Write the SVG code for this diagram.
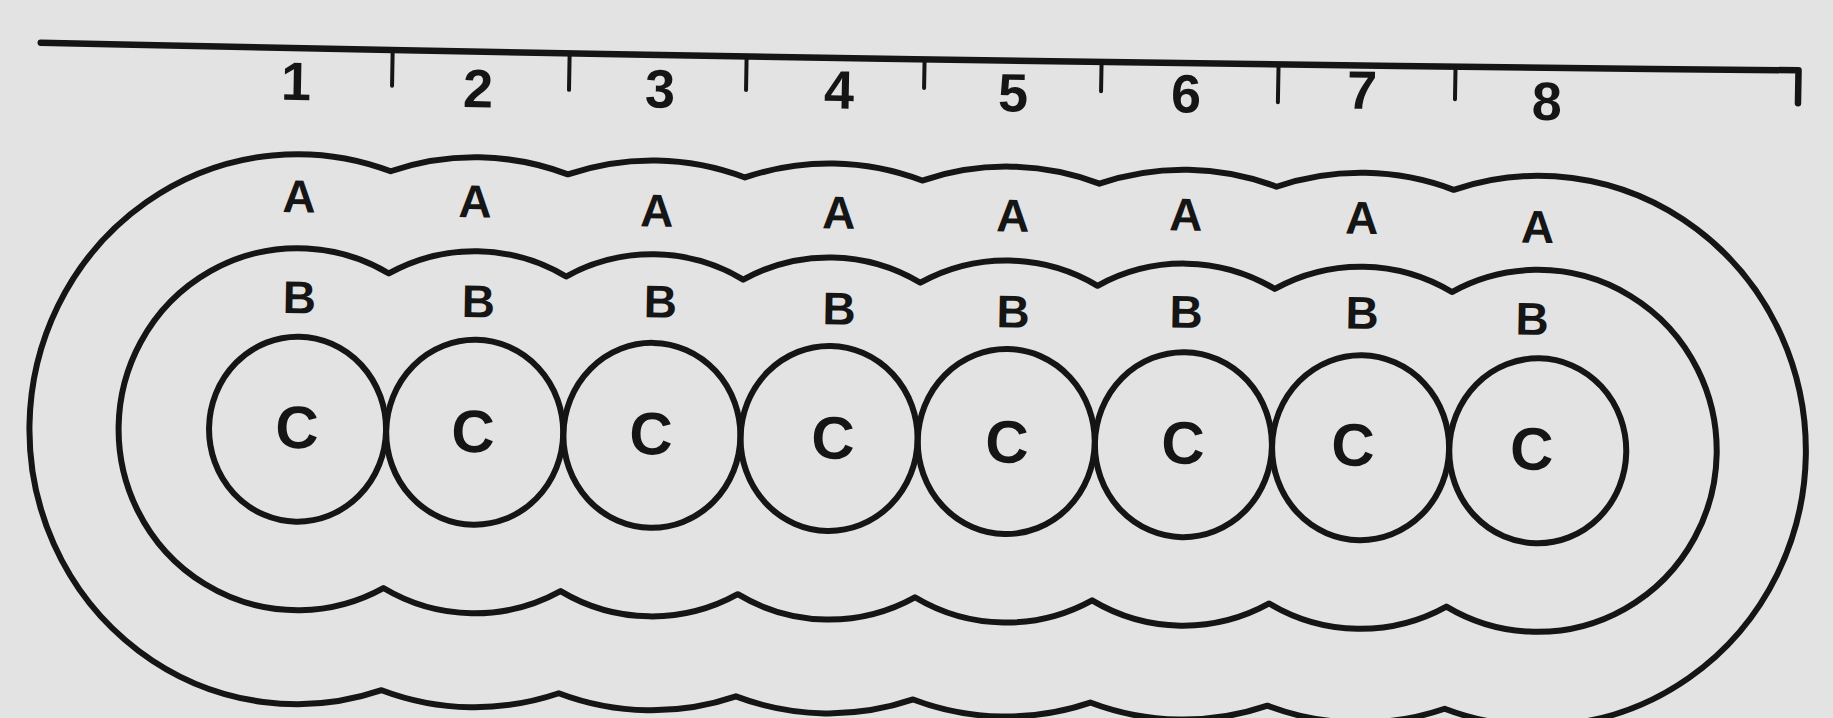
<svg xmlns="http://www.w3.org/2000/svg" width="1833" height="718" viewBox="0 0 1833 718">
<style>
.ln{fill:none;stroke:#151515;stroke-width:6;stroke-linejoin:round;stroke-linecap:round}
.tk{fill:none;stroke:#151515;stroke-width:4;stroke-linecap:round}
text{font-family:"Liberation Sans",Arial,sans-serif;font-weight:bold;fill:#151515;text-anchor:middle}
.n{font-size:54px}
.ab{font-size:46px}
.c{font-size:60px}
</style>
<rect x="0" y="0" width="1833" height="718" fill="#e3e3e3"/>
<g transform="rotate(1 918 380)">
  <g id="scale">
    <path d="M35 58 Q 907 62 1793 55 L 1793 88" fill="none" stroke="#151515" stroke-width="6.5" stroke-linecap="round" stroke-linejoin="round"/>
    <path class="tk" d="M387 59 V95 M564 60 V96 M741 60 V93 M919 60 V88 M1096 59 V88 M1273 58 V96 M1450 57 V90"/>
    <text class="n" x="291" y="111">1</text>
    <text class="n" x="473" y="115">2</text>
    <text class="n" x="655" y="112">3</text>
    <text class="n" x="834" y="110">4</text>
    <text class="n" x="1008" y="110">5</text>
    <text class="n" x="1181" y="108">6</text>
    <text class="n" x="1357" y="101">7</text>
    <text class="n" x="1542" y="109">8</text>
  </g>
  <g id="ring-A">
    <path class="ln" d="M387.1 180.5 A268 275 0 1 0 387.1 699.5 A268 275 0 0 0 564.3 699.5 A268 275 0 0 0 741.5 699.5 A268 275 0 0 0 918.7 699.5 A268 275 0 0 0 1095.9 699.5 A268 275 0 0 0 1273.1 699.5 A268 275 0 0 0 1450.3 699.5 A268 275 0 1 0 1450.3 180.5 A268 275 0 0 0 1273.1 180.5 A268 275 0 0 0 1095.9 180.5 A268 275 0 0 0 918.7 180.5 A268 275 0 0 0 741.5 180.5 A268 275 0 0 0 564.3 180.5 A268 275 0 0 0 387.1 180.5 Z"/>
    <text class="ab" x="296" y="223">A</text>
    <text class="ab" x="472" y="225">A</text>
    <text class="ab" x="654" y="231">A</text>
    <text class="ab" x="836" y="230">A</text>
    <text class="ab" x="1010" y="230">A</text>
    <text class="ab" x="1183" y="226">A</text>
    <text class="ab" x="1359" y="226">A</text>
    <text class="ab" x="1535" y="232">A</text>
  </g>
  <g id="ring-B">
    <path class="ln" d="M387.1 282.7 A179 181 0 1 0 387.1 597.3 A179 181 0 0 0 564.3 597.3 A179 181 0 0 0 741.5 597.3 A179 181 0 0 0 918.7 597.3 A179 181 0 0 0 1095.9 597.3 A179 181 0 0 0 1273.1 597.3 A179 181 0 0 0 1450.3 597.3 A179 181 0 1 0 1450.3 282.7 A179 181 0 0 0 1273.1 282.7 A179 181 0 0 0 1095.9 282.7 A179 181 0 0 0 918.7 282.7 A179 181 0 0 0 741.5 282.7 A179 181 0 0 0 564.3 282.7 A179 181 0 0 0 387.1 282.7 Z"/>
    <text class="ab" x="298" y="324">B</text>
    <text class="ab" x="477" y="325">B</text>
    <text class="ab" x="659" y="322">B</text>
    <text class="ab" x="838" y="326">B</text>
    <text class="ab" x="1012" y="326">B</text>
    <text class="ab" x="1185" y="323">B</text>
    <text class="ab" x="1361" y="321">B</text>
    <text class="ab" x="1531" y="324">B</text>
  </g>
  <g id="cell-1"><ellipse class="ln" cx="298.5" cy="440" rx="88.5" ry="92.5"/><text class="c" x="298" y="459">C</text></g>
  <g id="cell-2"><ellipse class="ln" cx="475.7" cy="440" rx="88.5" ry="92.5"/><text class="c" x="474" y="460">C</text></g>
  <g id="cell-3"><ellipse class="ln" cx="652.9" cy="440" rx="88.5" ry="92.5"/><text class="c" x="652" y="459">C</text></g>
  <g id="cell-4"><ellipse class="ln" cx="830.1" cy="440" rx="88.5" ry="92.5"/><text class="c" x="834" y="460">C</text></g>
  <g id="cell-5"><ellipse class="ln" cx="1007.3" cy="440" rx="88.5" ry="92.5"/><text class="c" x="1008" y="461">C</text></g>
  <g id="cell-6"><ellipse class="ln" cx="1184.5" cy="440" rx="88.5" ry="92.5"/><text class="c" x="1184" y="459">C</text></g>
  <g id="cell-7"><ellipse class="ln" cx="1361.7" cy="440" rx="88.5" ry="92.5"/><text class="c" x="1354" y="458">C</text></g>
  <g id="cell-8"><ellipse class="ln" cx="1538.9" cy="440" rx="88.5" ry="92.5"/><text class="c" x="1533" y="459">C</text></g>
</g>
</svg>
